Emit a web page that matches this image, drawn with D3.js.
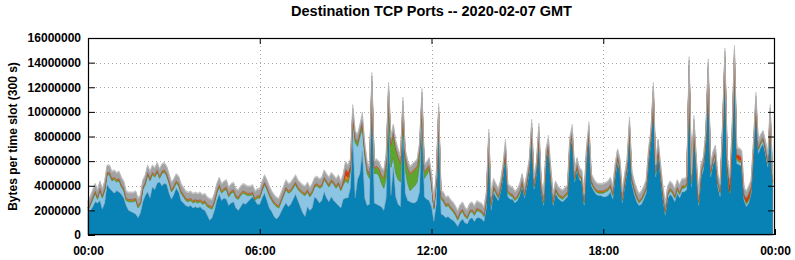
<!DOCTYPE html>
<html><head><meta charset="utf-8">
<script src="https://cdn.jsdelivr.net/npm/d3@7"></script>
<style>
body{margin:0;background:#fff}
svg{display:block}
text{font-family:"Liberation Sans",Arial,Helvetica,sans-serif;font-weight:bold;fill:#000}
</style>
</head><body>
<svg id="chart" width="795" height="260"></svg>
<script>
// ---- data (one value per 300 s slot, 288 slots; values in units of 100 000 bytes) ----
const UNIT = 100000;
const SLOT_MINUTES = 5;
const title = "Destination TCP Ports -- 2020-02-07 GMT";
const yLabel = "Bytes per time slot (300 s)";
const yTicks = [0,2000000,4000000,6000000,8000000,10000000,12000000,14000000,16000000];
const xTickHours = [0,6,12,18,24];
const xTickLabels = ["00:00","06:00","12:00","18:00","00:00"];

// top of the stack (sum of all ports) per slot
const totals = [
28,32,37,42,37,44,38,44,57,57,52,53,
51,52,47,44,36,35,35,35,36,30,33,45,
49,57,52,57,55,59,54,58,59,56,50,43,
46,50,48,42,39,36,35,36,34,35,34,35,
33,34,31,30,29,34,42,47,42,44,45,39,
42,43,38,37,40,42,41,40,40,41,36,38,
38,44,49,45,40,36,33,31,30,35,40,45,
42,43,46,49,45,43,41,40,43,39,42,47,
48,46,47,53,50,47,51,49,46,49,44,50,
60,57,62,106,85,82,90,100,75,60,56,132,
61,62,60,55,53,65,124,80,90,77,70,65,
112,70,61,56,58,60,62,75,119,58,60,63,
50,29,50,107,37,35,31,32,29,27,24,20,
25,27,23,21,26,27,24,28,27,26,23,35,
86,32,46,42,38,45,58,78,42,40,39,36,
38,42,50,40,50,62,94,47,60,91,45,34,
70,81,55,34,44,40,38,37,39,41,80,90,
53,63,55,53,34,72,92,50,46,43,42,42,
42,43,44,47,40,58,70,62,36,50,62,96,
52,44,38,34,36,40,45,70,86,124,58,78,
58,40,26,40,44,42,38,45,41,46,46,48,
145,50,97,64,34,58,64,85,143,58,68,73,
50,42,90,152,64,47,85,154,71,71,69,39,
36,40,45,77,116,77,82,85,77,66,106,50];

// dark blue (largest port)
const darkBlue = [
18,20,23,27,26,28,21,26,41,38,36,34,
36,35,33,30,24,20,19,18,17,14,18,27,
32,35,30,39,37,42,43,40,42,41,34,29,
33,38,35,28,26,24,23,24,22,23,22,23,
21,20,16,12,14,20,28,33,28,30,29,24,
26,27,22,20,23,26,25,27,29,31,28,25,
25,30,34,28,22,19,15,13,15,19,23,26,
23,25,29,33,28,23,18,15,23,20,22,31,
29,26,28,35,30,27,31,28,26,24,22,29,
30,30,38,80,30,45,50,68,30,24,25,120,
26,25,24,23,20,30,92,32,55,31,25,23,
95,34,28,27,26,26,28,35,95,31,29,28,
23,11,25,89,17,16,14,15,13,12,10,7,
11,13,10,9,13,14,11,14,14,13,11,22,
74,20,35,31,28,35,47,66,31,29,29,26,
28,32,40,30,40,51,82,37,50,80,35,24,
60,70,45,24,34,30,28,27,29,31,69,79,
43,53,45,43,24,61,81,40,36,33,32,32,
31,31,32,35,29,47,59,51,26,39,51,84,
41,33,27,24,25,29,34,59,75,112,47,67,
47,29,16,29,33,31,27,34,30,35,35,37,
133,39,86,53,24,47,53,74,131,47,57,62,
39,31,79,138,51,34,72,138,58,57,56,28,
23,26,34,66,104,66,71,74,66,55,94,39];

const green = [
1,1,1,1,1,1,1,1,1,1,1,1, 1,1,1,1,1,1,1,1,1,1,1,1,
1,1,1,1,1,1,1,1,1,1,1,1, 1,1,1,1,1,1,1,1,1,1,1,1,
1,1,1,1,1,1,1,1,1,1,1,1, 1,1,1,1,1,1,1,1,1,1,1,1,
1,1,1,1,1,1,1,1,1,1,1,1, 1,1,1,1,1,1,1,1,1,1,1,1,
1,1,1,1,1,1,1,1,1,1,1,1,
2,2,2,2,3,3,3,4,3,3,3,3,
4,5,5,6,8,12,15,18,20,20,18,15,
8,10,12,13,13,13,12,10,6,5,4,3,
2,1,1,1,1,1,1,1,1,1,1,1,
1,1,1,1,1,1,1,1,1,1,1,1, 1,1,1,1,1,1,1,1,1,1,1,1,
1,1,1,1,1,1,1,1,1,1,1,1, 1,1,1,1,1,1,1,1,1,1,1,1,
1,1,1,1,1,1,1,1,1,1,1,1, 1,1,1,1,1,1,1,1,1,1,1,1,
1,1,1,1,1,1,1,1,1,1,1,1, 1,1,1,1,1,1,1,1,1,1,1,1,
1,1,1,1,1,1,1,1,1,1,1,1, 1,1,1,1,1,1,1,1,1,1,1,1,
1,1,1,1,1,1,1,1,1,1,1,1];

const orange = [
1,1,1,1,1,1,1,1,1,1,1,1, 1,1,1,1,1,1,1,1,1,1,1,1,
1,1,1,1,1,1,1,1,1,1,1,1, 1,1,1,1,1,1,1,1,1,1,1,1,
1,1,1,1,1,1,1,1,1,1,1,1, 1,1,1,1,1,1,1,1,1,1,1,1,
1,1,1,1,1,1,1,1,1,1,1,1, 1,1,1,1,1,1,1,1,1,1,1,1,
1,1,1,1,1,1,1,1,1,1,1,1,
3,3,1,2,1,1,1,2,1,1,1,2,
1,1,1,1,1,1,2,1,1,1,1,1,
2,1,1,1,1,1,1,1,2,1,1,1,
1,1,1,2,1,1,1,1,1,1,1,1,
1,1,1,1,1,1,1,1,1,1,1,1,
2,1,1,1,1,1,1,2,1,1,1,1,
1,1,1,1,1,1,2,1,1,2,1,1,
1,2,1,1,1,1,1,1,1,1,1,2,
1,1,1,1,1,1,2,1,1,1,1,1,
1,1,1,1,1,1,1,1,1,1,1,2,
1,1,1,1,1,1,1,1,1,2,1,1,
1,1,1,1,1,1,1,1,1,1,1,1,
2,1,2,1,1,1,1,1,2,1,1,1,
1,1,1,2,1,1,1,2,1,1,1,1,
1,1,1,1,2,1,1,1,1,1,2,1];

const red = [
0,0,0,0,0,0,0,0,0,0,0,0, 0,0,0,0,0,0,0,0,0,0,0,0,
0,0,0,0,0,0,0,0,0,0,0,0, 0,0,0,0,0,0,0,0,0,0,0,0,
0,0,0,0,0,0,0,0,0,0,0,0, 0,0,0,0,0,0,0,0,0,0,0,0,
0,0,0,0,0,0,0,0,0,0,0,0, 0,0,0,0,0,0,0,0,0,0,0,0,
0,0,0,0,0,0,0,0,0,0,0,1,
5,4,1,0,0,0,0,0,0,0,0,0,
0,0,0,0,0,0,0,0,0,0,0,0, 0,0,0,0,0,0,0,0,0,0,0,0,
0,0,0,0,0,0,0,0,0,0,0,0, 0,0,0,0,0,0,0,0,0,0,0,0,
0,0,0,0,0,0,0,0,0,0,0,0, 0,0,0,0,0,0,0,0,0,0,0,0,
0,0,0,0,0,0,0,0,0,0,0,0, 0,0,0,0,0,0,0,0,0,0,0,0,
0,0,0,0,0,0,0,0,0,0,0,0, 0,0,0,0,0,0,0,0,0,0,0,0,
0,0,0,0,0,0,0,0,0,0,0,0, 0,0,0,0,0,0,0,0,0,0,0,0,
0,0,0,1,2,5,2,2,2,4,2,0,
3,4,0,0,0,0,0,0,0,0,0,0];

const gray = [
5,5,5,5,5,5,5,5,5,5,5,5, 5,5,5,5,5,5,5,5,5,5,5,5,
5,5,5,5,5,5,5,5,5,5,5,5, 5,5,5,5,5,5,5,5,5,5,5,5,
5,5,5,5,5,5,5,5,5,5,5,5, 5,5,5,5,5,5,5,5,5,5,5,5,
5,5,5,5,5,5,5,5,5,5,5,5, 5,5,5,5,5,5,5,5,5,5,5,5,
5,5,5,5,5,5,5,5,5,5,5,5,
5,5,5,4,5,5,5,4,5,5,5,4,
5,5,5,5,5,5,4,5,5,5,5,5,
4,5,5,5,5,5,5,5,4,5,5,5,
5,5,5,4,5,5,5,5,5,5,5,5,
5,5,5,5,5,5,5,5,5,5,5,5,
4,5,5,5,5,5,5,4,5,5,5,5,
5,5,5,5,5,5,4,5,5,4,5,5,
5,4,5,5,5,5,5,5,5,5,5,4,
5,5,5,5,5,5,4,5,5,5,5,5,
5,5,5,5,5,5,5,5,5,5,5,4,
5,5,5,5,5,5,5,5,5,4,5,5,
5,5,5,5,5,5,5,5,5,5,5,5,
4,5,4,5,5,5,5,5,4,5,5,5,
5,5,5,4,5,5,5,4,5,5,5,5,
5,5,5,5,4,5,5,5,5,5,4,5];

const lightGray = [
1,1,1,1,1,1,1,1,1,1,1,1, 1,1,1,1,1,1,1,1,1,1,1,1,
1,1,1,1,1,1,1,1,1,1,1,1, 1,1,1,1,1,1,1,1,1,1,1,1,
1,1,1,1,1,1,1,1,1,1,1,1, 1,1,1,1,1,1,1,1,1,1,1,1,
1,1,1,1,1,1,1,1,1,1,1,1, 1,1,1,1,1,1,1,1,1,1,1,1,
1,1,1,1,1,1,1,1,1,1,1,1,
1,1,1,3,1,1,1,3,1,1,1,3,
1,1,1,1,1,1,3,1,1,1,1,1,
3,1,1,1,1,1,1,1,3,1,1,1,
1,1,1,3,1,1,1,1,1,1,1,1,
1,1,1,1,1,1,1,1,1,1,1,1,
3,1,1,1,1,1,1,3,1,1,1,1,
1,1,1,1,1,1,3,1,1,3,1,1,
1,3,1,1,1,1,1,1,1,1,1,3,
1,1,1,1,1,1,3,1,1,1,1,1,
1,1,1,1,1,1,1,1,1,1,1,3,
1,1,1,1,1,1,1,1,1,3,1,1,
1,1,1,1,1,1,1,1,1,1,1,1,
3,1,3,1,1,1,1,1,3,1,1,1,
1,1,1,3,1,1,1,3,1,1,1,1,
1,1,1,1,3,1,1,1,1,1,3,1];

const colors = ["#0882b4","#8cc5e4","#5ea52f","#e0801a","#dc3a12","#a2a2a2","#cdcdcd"];
const strokes = ["#21597a","#6aa6c8","#4d8a28","#c06a10","#b02a0a","#8a8a8a","#b5b5b5"];

// ---- build table for d3.stack (light blue = read total minus the other read layers) ----
const keys = ["darkBlue","lightBlue","green","orange","red","gray","lightGray"];
const val = a => (i) => (a[i] || 0);
const rows = totals.map((t, i) => {
  const others = val(darkBlue)(i) + val(green)(i) + val(orange)(i) + val(red)(i) + val(gray)(i) + val(lightGray)(i);
  return {
    hour: i * SLOT_MINUTES / 60,
    darkBlue: val(darkBlue)(i) * UNIT,
    lightBlue: Math.max(0, t - others) * UNIT,
    green: val(green)(i) * UNIT,
    orange: val(orange)(i) * UNIT,
    red: val(red)(i) * UNIT,
    gray: val(gray)(i) * UNIT,
    lightGray: val(lightGray)(i) * UNIT
  };
});

const svg = d3.select("#chart");
const L = 88, R = 775, T = 38, B = 235;
const x = d3.scaleLinear().domain([0, 24]).range([L, R]);
const y = d3.scaleLinear().domain([0, 16000000]).range([B, T]);

svg.append("rect").attr("width",795).attr("height",260).attr("fill","#fff");

// grid (dotted)
const grid = svg.append("g").attr("stroke","#a8a8a8").attr("stroke-width",1).attr("stroke-dasharray","1,3");
yTicks.filter(v => v > 0 && v < 16000000).forEach(v => {
  grid.append("line").attr("x1",L).attr("x2",R).attr("y1",Math.round(y(v))+0.5).attr("y2",Math.round(y(v))+0.5);
});
xTickHours.filter(h => h > 0 && h < 24).forEach(h => {
  grid.append("line").attr("y1",T).attr("y2",B).attr("x1",Math.round(x(h))+0.5).attr("x2",Math.round(x(h))+0.5);
});

// stacked areas
const stacked = d3.stack().keys(keys)(rows);
const area = d3.area()
  .x(d => x(d.data.hour))
  .y0(d => y(d[0]))
  .y1(d => y(d[1]));
svg.append("g").selectAll("path").data(stacked).join("path")
  .attr("d", area)
  .attr("fill", (d,i) => colors[i])
  .attr("stroke", (d,i) => strokes[i])
  .attr("stroke-width", 0.6)
  .attr("stroke-linejoin","round");

// axes: ticks inward, mirrored
const yLeft = d3.axisLeft(y).tickValues(yTicks).tickFormat(d3.format("d")).tickSize(-7).tickPadding(7);
const gyl = svg.append("g").attr("transform",`translate(${L},0)`).call(yLeft);
const yRight = d3.axisRight(y).tickValues(yTicks.filter(v=>v>0 && v<16000000)).tickFormat("").tickSize(-7);
const gyr = svg.append("g").attr("transform",`translate(${R},0)`).call(yRight);
const xBottom = d3.axisBottom(x).tickValues(xTickHours).tickFormat((d,i) => xTickLabels[i]).tickSize(-6).tickPadding(11);
const gxb = svg.append("g").attr("transform",`translate(0,${B})`).call(xBottom);
const xTop = d3.axisTop(x).tickValues(xTickHours.filter(h=>h>0&&h<24)).tickFormat("").tickSize(-6);
const gxt = svg.append("g").attr("transform",`translate(0,${T})`).call(xTop);
[gyl,gyr,gxb,gxt].forEach(g => {
  g.select(".domain").remove();
  g.selectAll(".tick line").attr("stroke","#000").attr("stroke-width",1);
  g.selectAll("text").attr("font-size",12).attr("font-family","Liberation Sans, Arial, sans-serif").attr("font-weight","bold").attr("fill","#000");
});

// border
svg.append("rect").attr("x",L+0.5).attr("y",T+0.5).attr("width",R-L-1).attr("height",B-T-1)
  .attr("fill","none").attr("stroke","#000").attr("stroke-width",1.2);

// title and y label
svg.append("text").attr("x",(L+R)/2).attr("y",16).attr("text-anchor","middle")
  .attr("font-size",14.5).text(title);
svg.append("text").attr("transform",`translate(16.5,${(T+B)/2}) rotate(-90)`).attr("text-anchor","middle")
  .attr("font-size",12).text(yLabel);
</script>
</body></html>
